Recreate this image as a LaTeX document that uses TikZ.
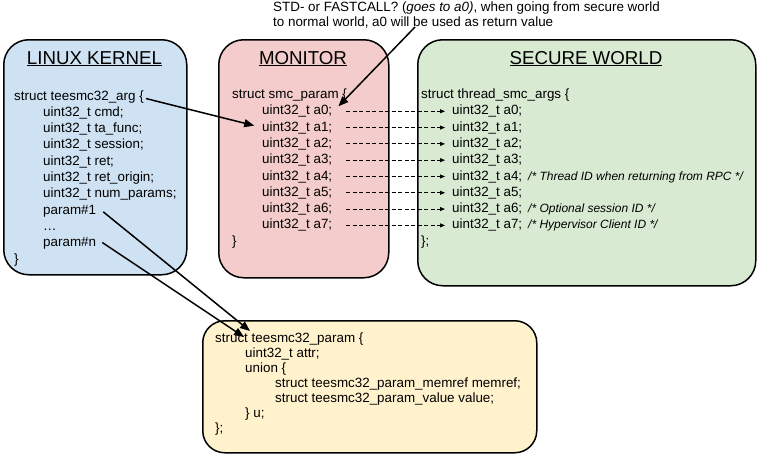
\documentclass[tikz,border=0pt]{standalone}
\usepackage{fontspec}
\setmainfont{Liberation Sans}
\usetikzlibrary{arrows.meta}
\definecolor{kblue}{HTML}{CFE2F3}
\definecolor{mred}{HTML}{F4CCCC}
\definecolor{sgreen}{HTML}{D9EAD3}
\definecolor{pyellow}{HTML}{FFF2CC}
\begin{document}
\begin{tikzpicture}[x=1pt,y=-1pt,
 box/.style={draw=black, line width=1.5pt, rounded corners=25pt, anchor=north west, inner sep=0pt},
 code/.style={anchor=base west, inner sep=0pt, font=\fontsize{13.4}{16}\selectfont},
 cmt/.style={anchor=base west, inner sep=0pt, font=\fontsize{12}{14}\selectfont\itshape},
 boxtitle/.style={anchor=base, inner sep=0pt, font=\fontsize{18.7}{22}\selectfont},
 bigarrow/.style={line width=1.5pt, -{Triangle[length=10pt,width=8pt]}},
 dasharrow/.style={line width=0.8pt, dash pattern=on 4pt off 2.5pt, -{Triangle[length=5pt,width=4pt]}}
]
\useasboundingbox (0,0) rectangle (757,455);
% boxes
\node[box, fill=kblue, minimum width=183pt, minimum height=235pt] (linux) at (3,39) {};
\node[box, fill=mred, minimum width=170pt, minimum height=238pt] (mon) at (218,39) {};
\node[box, fill=sgreen, minimum width=338pt, minimum height=246pt] (sec) at (417,39) {};
\node[box, fill=pyellow, rounded corners=22pt, minimum width=334pt, minimum height=132pt] (par) at (202,320) {};
% titles
\node[boxtitle] (tl) at (94.5,64) {\underline{LINUX KERNEL}};
\node[boxtitle] (tm) at (303,64) {\underline{MONITOR}};
\node[boxtitle] (ts) at (586,64) {\underline{SECURE WORLD}};
% linux
\node[code] (l0) at (14,100) {struct teesmc32\_arg \{};
\node[code] (l1) at (43,116.3) {uint32\_t cmd;};
\node[code] (l2) at (43,132.6) {uint32\_t ta\_func;};
\node[code] (l3) at (43,148.9) {uint32\_t session;};
\node[code] (l4) at (43,165.2) {uint32\_t ret;};
\node[code] (l5) at (43,181.5) {uint32\_t ret\_origin;};
\node[code] (l6) at (43,197.8) {uint32\_t num\_params;};
\node[code] (l7) at (43,214.1) {param\#1};
\node[code] (l8) at (43,230.4) {\dots};
\node[code] (l9) at (43,246.7) {param\#n};
\node[code] (l10) at (14,263) {\}};
% monitor
\node[code] (m0) at (232,98.5) {struct smc\_param \{};
\foreach \i in {0,...,7}{
  \pgfmathsetmacro{\yy}{98.5+16.3*(\i+1)}
  \node[code] (m\the\numexpr\i+1\relax) at (262,\yy) {uint32\_t a\i;};
  \node[code] (s\the\numexpr\i+1\relax) at (452,\yy) {uint32\_t a\i;};
}
\node[code] (m9) at (232,245.2) {\}};
% secure
\node[code] (s0) at (421,98.5) {struct thread\_smc\_args \{};
\node[code] (s9) at (421,245.2) {\};};
\node[cmt] (c4) at (528,180) {/* Thread ID when returning from RPC */};
\node[cmt] (c6) at (528,212.6) {/* Optional session ID */};
\node[cmt] (c7) at (528,228.9) {/* Hypervisor Client ID */};
% param box
\node[code] (b0) at (215,342) {struct teesmc32\_param \{};
\node[code] (b1) at (245,357) {uint32\_t attr;};
\node[code] (b2) at (245,372) {union \{};
\node[code] (b3) at (275,387) {struct teesmc32\_param\_memref memref;};
\node[code] (b4) at (275,402) {struct teesmc32\_param\_value value;};
\node[code] (b5) at (245,417) {\} u;};
\node[code] (b6) at (215,432) {\};};
% annotation
\node[code] (a1) at (273,12) {STD- or FASTCALL? (\textit{goes to a0)}, when going from secure world};
\node[code] (a2) at (273,27) {to normal world, a0 will be used as return value};
\coordinate (afoot) at (415,27);
% arrows
\foreach \i in {1,...,8}{
  \draw[dasharrow, shorten <=14pt, shorten >=7pt] (m\i.east) -- (s\i.west);
}
\draw[bigarrow] (afoot) -- ([xshift=6pt,yshift=5pt]m1.east);
\draw[bigarrow, shorten >=8pt] ([xshift=2pt,yshift=-2pt]l0.east) -- (m2.west);
\draw[bigarrow] ([xshift=7pt,yshift=-1pt]l7.east) -- ([xshift=35pt,yshift=11pt]b0.base west);
\draw[bigarrow] ([xshift=6pt,yshift=1pt]l9.east) -- ([xshift=29pt,yshift=5pt]b0.base west);
\end{tikzpicture}
\end{document}
